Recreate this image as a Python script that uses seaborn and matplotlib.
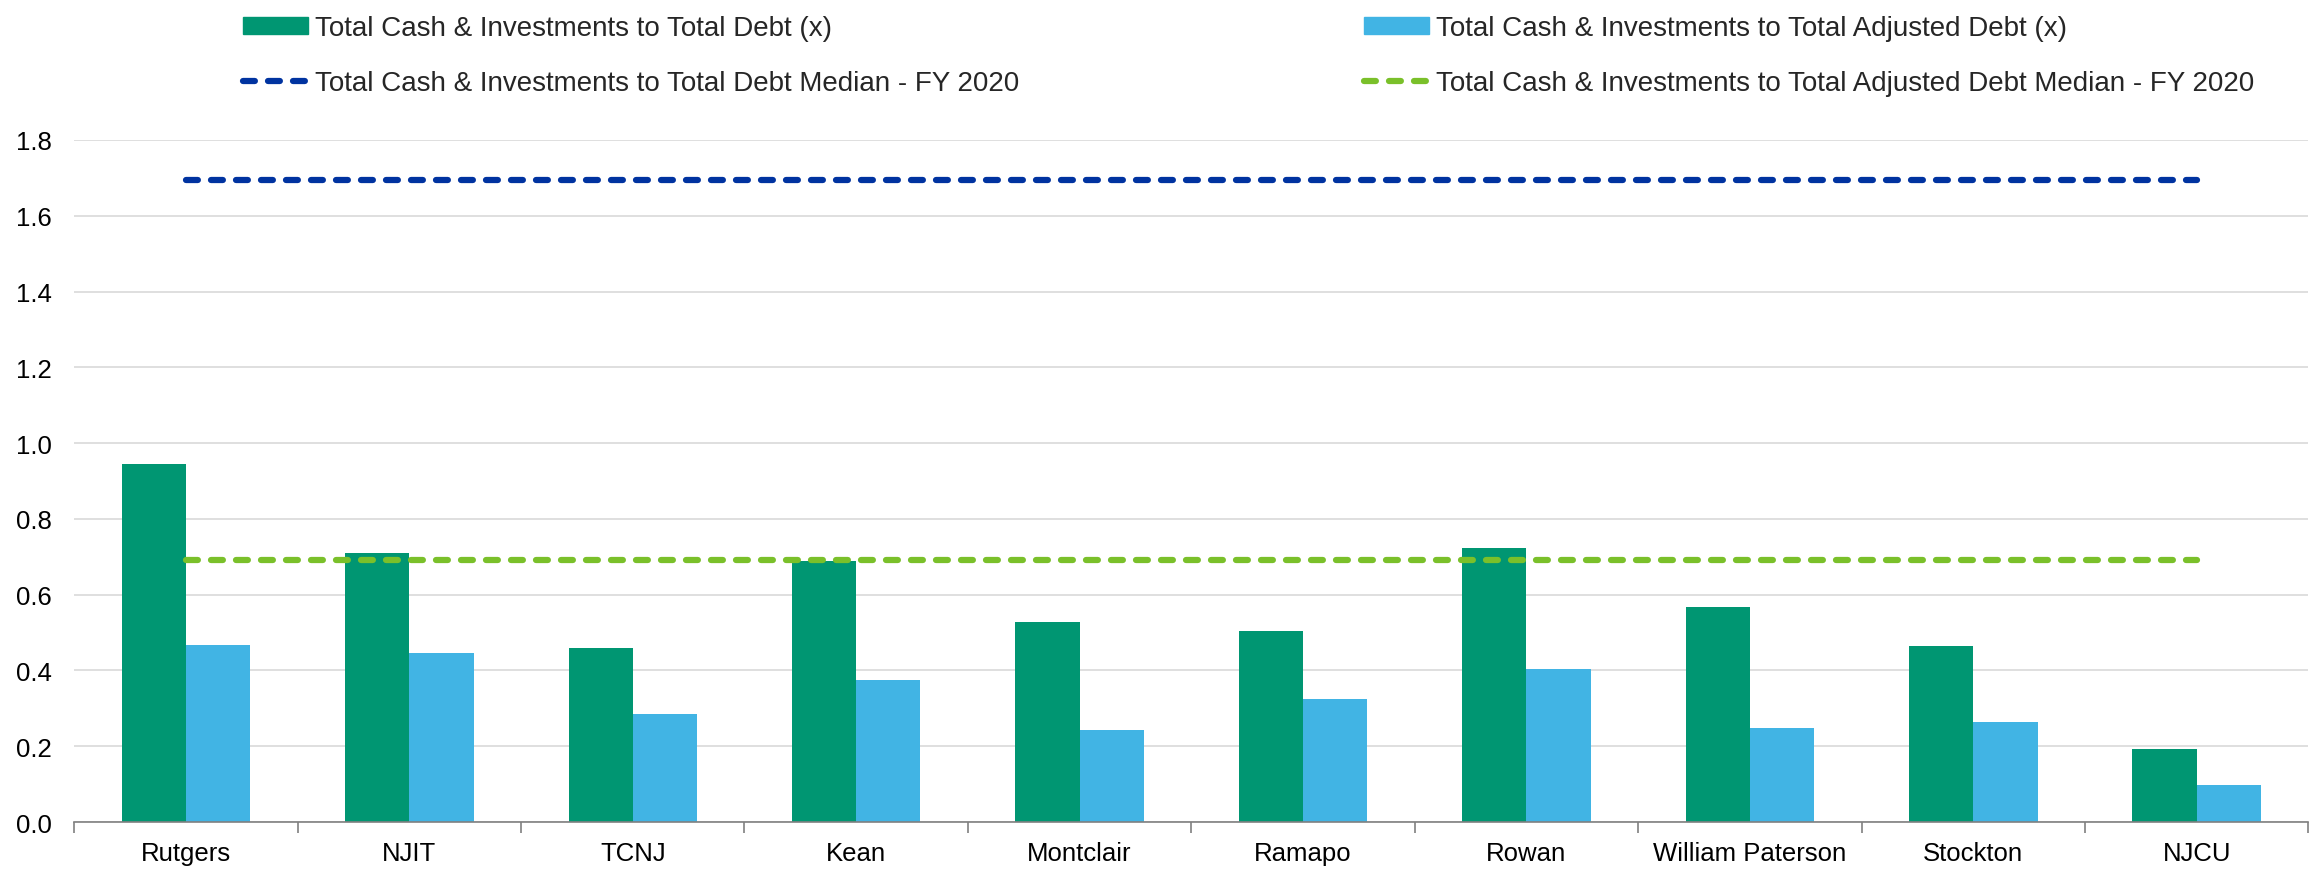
import numpy as np
import pandas as pd
import matplotlib.pyplot as plt
import seaborn as sns

schools = ["Rutgers", "NJIT", "TCNJ", "Kean", "Montclair", "Ramapo",
           "Rowan", "William Paterson", "Stockton", "NJCU"]
debt_ratio = [0.946, 0.709, 0.460, 0.688, 0.529, 0.503, 0.722, 0.568, 0.464, 0.194]
adj_debt_ratio = [0.468, 0.447, 0.285, 0.374, 0.244, 0.325, 0.403, 0.247, 0.263, 0.099]
debt_median = 1.695
adj_debt_median = 0.692

label_debt = "Total Cash & Investments to Total Debt (x)"
label_adj = "Total Cash & Investments to Total Adjusted Debt (x)"
label_debt_med = "Total Cash & Investments to Total Debt Median - FY 2020"
label_adj_med = "Total Cash & Investments to Total Adjusted Debt Median - FY 2020"

green = "#009672"
blue = "#41B4E4"
navy = "#0033A0"
lime = "#7AC02A"

df = pd.DataFrame({
    "school": schools * 2,
    "value": debt_ratio + adj_debt_ratio,
    "series": [label_debt] * len(schools) + [label_adj] * len(schools),
})

sns.set_theme(style="white")
plt.rcParams["font.family"] = ["Liberation Sans", "DejaVu Sans"]

fig = plt.figure(figsize=(23.2, 8.7), dpi=100)
ax = fig.add_axes([0.032, 0.054, 0.963, 0.784])

sns.barplot(data=df, x="school", y="value", hue="series",
            hue_order=[label_debt, label_adj], palette=[green, blue],
            width=0.575, gap=0, saturation=1, edgecolor="none",
            legend=False, ax=ax)

dash = (0, (1.9, 2.1))
xs = np.arange(len(schools))
ax.plot(xs, [debt_median] * len(xs), color=navy, lw=4.5,
        linestyle=dash, dash_capstyle="round", zorder=3)
ax.plot(xs, [adj_debt_median] * len(xs), color=lime, lw=4.5,
        linestyle=dash, dash_capstyle="round", zorder=3)

ax.set_ylim(0, 1.8)
ax.set_xlim(-0.5, len(schools) - 0.5)
ax.set_yticks(np.arange(0, 1.81, 0.2))
ax.set_yticklabels([f"{v:.1f}" for v in np.arange(0, 1.81, 0.2)])
ax.yaxis.grid(True, color="#D9D9D9", lw=1.2)
ax.set_axisbelow(True)
ax.set_xlabel("")
ax.set_ylabel("")

for side in ["top", "right", "left"]:
    ax.spines[side].set_visible(False)
ax.spines["bottom"].set_color("#808080")
ax.spines["bottom"].set_linewidth(1.2)

ax.set_xticks(np.arange(-0.5, len(schools), 1.0), minor=True)
ax.tick_params(axis="x", which="minor", length=8, width=1.2, color="#808080", bottom=True)
ax.tick_params(axis="x", which="major", length=0, pad=13.5, labelsize=18.5, labelcolor="black")
ax.tick_params(axis="y", length=0, pad=16, labelsize=18.5, labelcolor="black")

handles = [
    plt.Rectangle((0, 0), 1, 1, color=green),
    plt.Line2D([], [], color=navy, lw=4.5, linestyle=dash, dash_capstyle="round"),
    plt.Rectangle((0, 0), 1, 1, color=blue),
    plt.Line2D([], [], color=lime, lw=4.5, linestyle=dash, dash_capstyle="round"),
]
labels = [label_debt, label_debt_med, label_adj, label_adj_med]
fig.legend(handles, labels, ncol=2, loc="upper left", bbox_to_anchor=(0.094, 1.01),
           frameon=False, fontsize=20, handlelength=2.35, handleheight=0.6,
           handletextpad=0.25, labelspacing=1.05, columnspacing=12.4)

fig.savefig("out.png", dpi=100)
